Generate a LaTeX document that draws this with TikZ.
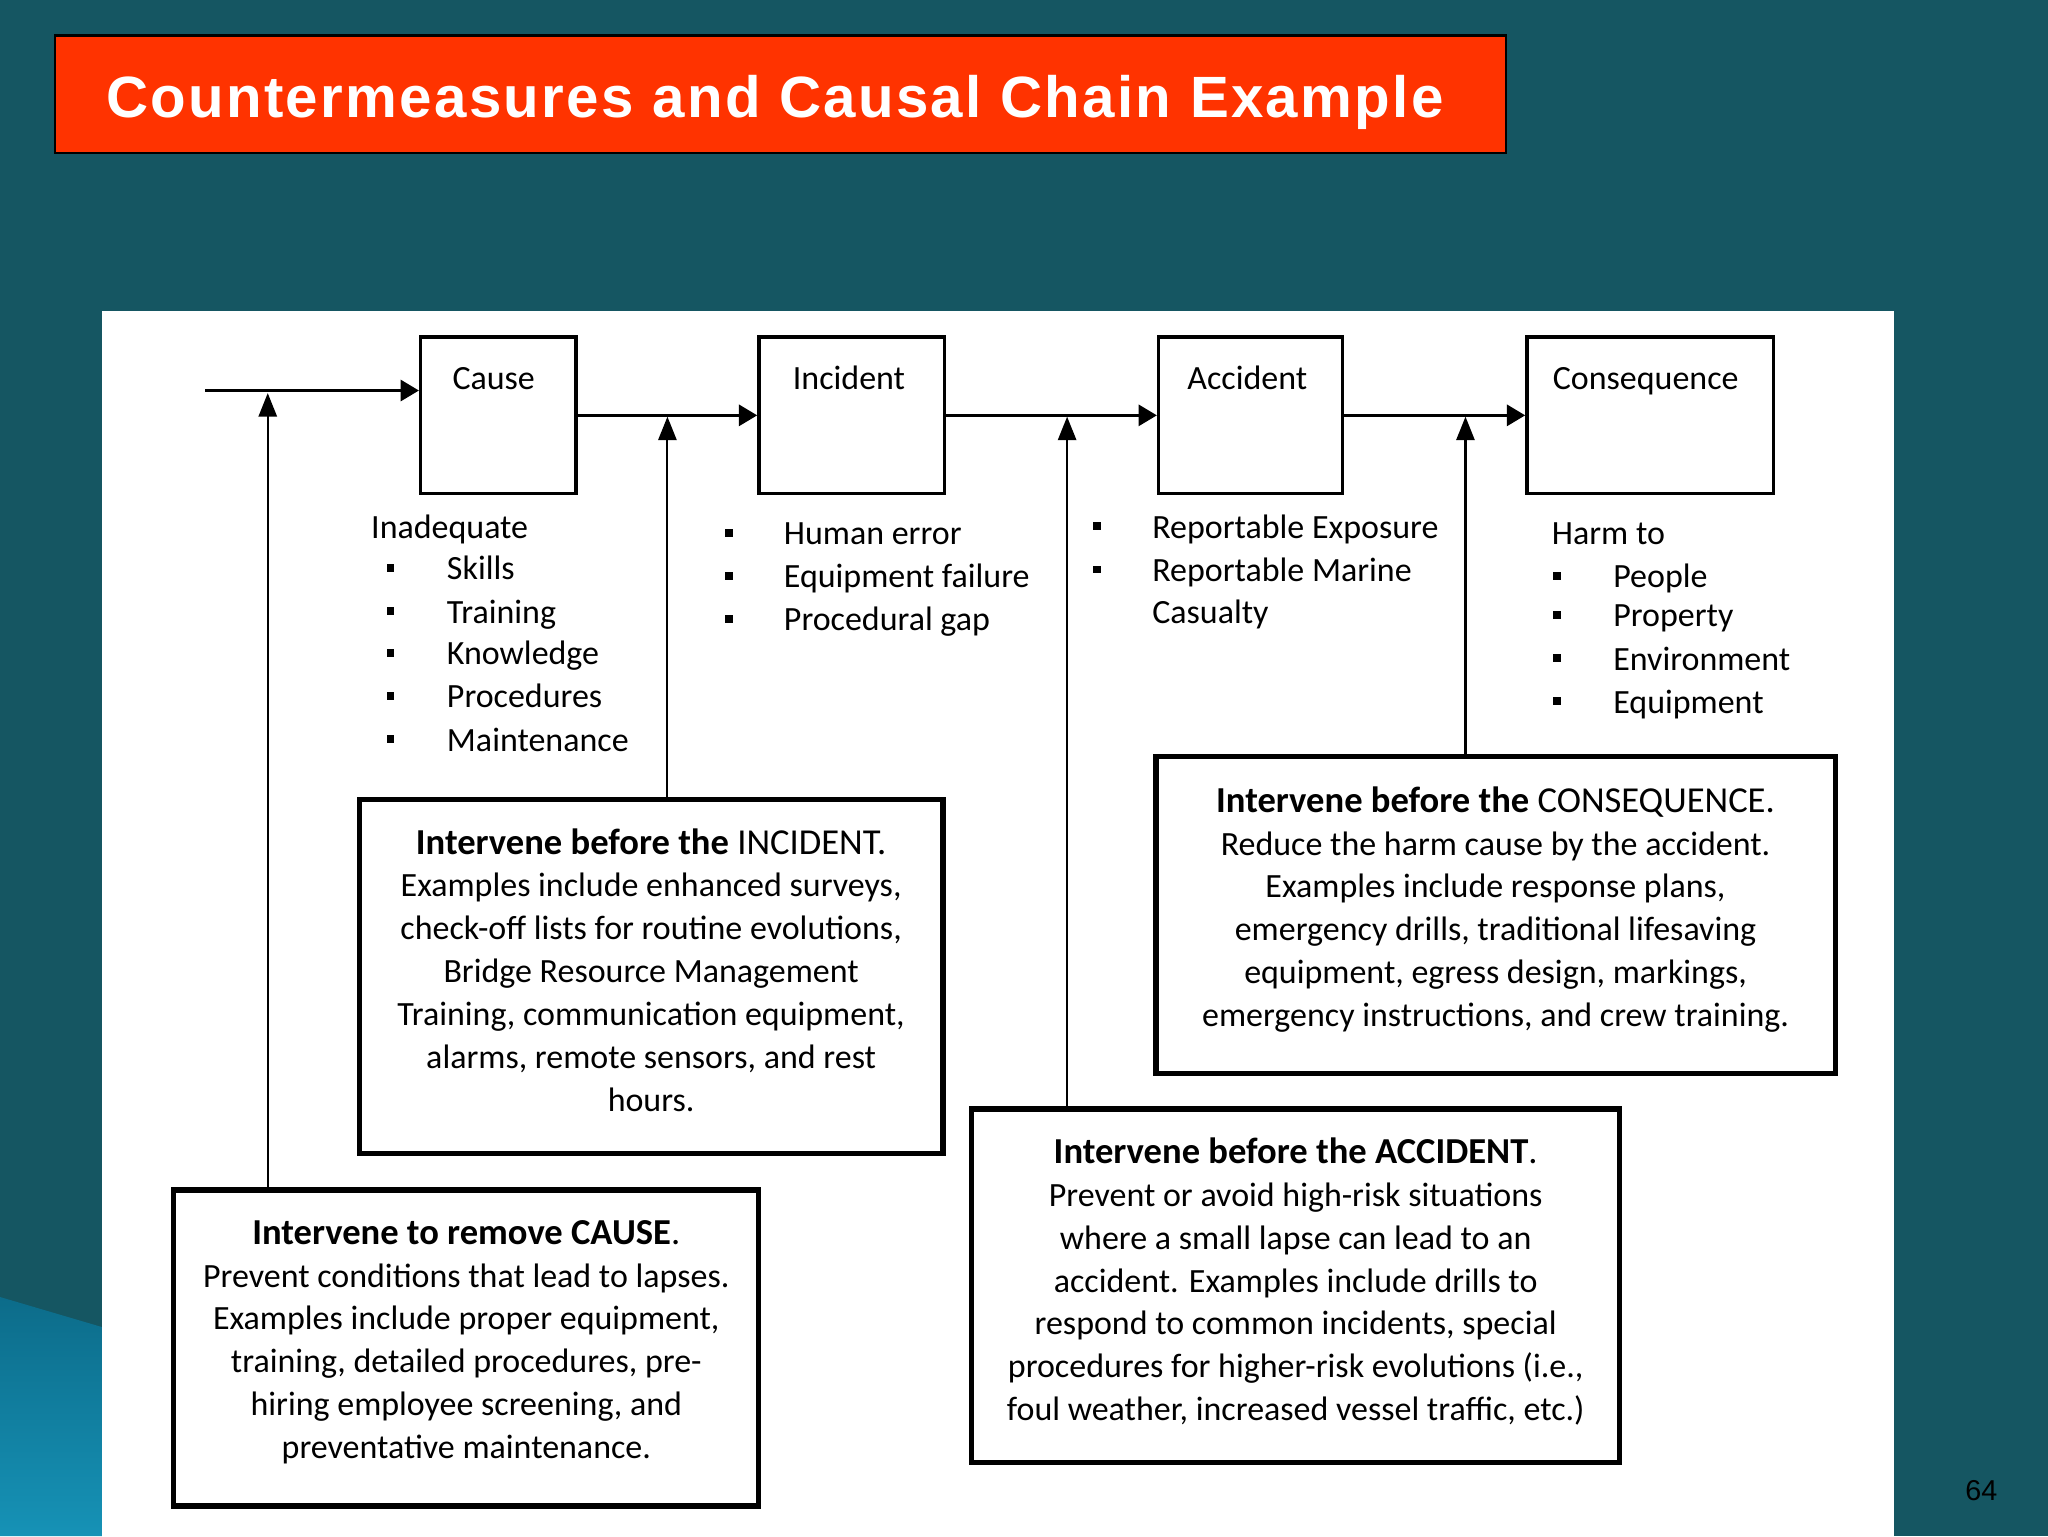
\documentclass[tikz,border=0pt]{standalone}
\usepackage{fontspec}
\setmainfont{Carlito}
\newfontfamily\titlefont[LetterSpace=4.0]{Liberation Sans}
\newfontfamily\pgfont{Liberation Sans}
\usetikzlibrary{arrows.meta}
\definecolor{bgteal}{RGB}{21,86,98}
\definecolor{titlered}{RGB}{255,51,0}
\definecolor{wedgetop}{RGB}{12,108,138}
\definecolor{wedgebot}{RGB}{22,146,182}
\newcommand{\headsize}{\fontsize{28}{32.8}\selectfont}
\begin{document}
\begin{tikzpicture}[x=1pt,y=-1pt,
  bodytext/.style={font=\fontsize{26}{32.8}\selectfont, inner sep=0pt, text=black},
  blocktext/.style={bodytext, align=center, anchor=north},
  listtext/.style={bodytext, anchor=base west},
  bul/.style={rectangle, fill=black, minimum size=6pt, inner sep=0pt},
  chainbox/.style={draw=black, line width=2.5pt, fill=white, minimum width=#1, minimum height=120pt, inner sep=0pt},
  ibox/.style={draw=black, line width=4pt, fill=white, inner sep=0pt},
  hline/.style={line width=2.5pt, -{Triangle[length=14pt,width=16pt]}},
  vline/.style={line width=1.6pt, -{Triangle[length=18pt,width=14pt]}}
]
\useasboundingbox (0,0) rectangle (1568,1176);
\fill[bgteal] (0,0) rectangle (1568,1176);
\shade[top color=wedgetop, bottom color=wedgebot] (0,993) -- (78,1016) -- (78,1176) -- (0,1176) -- cycle;
% white panel
\fill[white] (78,238) rectangle (1450,1176);
% title
\node[draw=black, line width=2pt, fill=titlered, minimum width=1111pt, minimum height=90pt, inner sep=0pt] (title) at (597.5,72) {};
\node[anchor=base west, inner sep=0pt, text=white, font=\titlefont\bfseries\fontsize{44.6}{50}\selectfont] (titletext) at (81,90) {Countermeasures and Causal Chain Example};
% chain boxes
\node[chainbox=119pt] (cause) at (381.5,318) {};
\node[chainbox=142pt] (incident) at (652,318) {};
\node[chainbox=141pt] (accident) at (957.5,318) {};
\node[chainbox=189pt] (conseq) at (1263.5,318) {};
\node[bodytext, anchor=base] (lcause) at (378,298) {Cause};
\node[bodytext, anchor=base] (lincident) at (650,298) {Incident};
\node[bodytext, anchor=base] (laccident) at (955,298) {Accident};
\node[bodytext, anchor=base] (lconseq) at (1260,298) {Consequence};
% horizontal connectors
\coordinate (s0) at (157,299);
\draw[hline] (s0) -- (s0 -| cause.west);
\draw[hline] (cause.east) -- (incident.west);
\draw[hline] (incident.east) -- (accident.west);
\draw[hline] (accident.east) -- (conseq.west);
% lists
\node[listtext] (inad) at (284,412) {Inadequate};
\foreach \y/\t [count=\i] in {435/Skills,468/Training,500/Knowledge,533/Procedures,566/Maintenance}{
  \node[bul] (cb\i) at (299,\y) {};
  \node[listtext] (ct\i) at (342,\y+9) {\t};
}
\foreach \y/\t [count=\i] in {408/Human error,441/Equipment failure,474/Procedural gap}{
  \node[bul] (ib\i) at (558,\y) {};
  \node[listtext] (it\i) at (600,\y+9) {\t};
}
\foreach \y/\t [count=\i] in {403/Reportable Exposure,436/Reportable Marine}{
  \node[bul] (ab\i) at (840,\y) {};
  \node[listtext] (at\i) at (882,\y+9) {\t};
}
\node[listtext] (at3) at (882,477) {Casualty};
\node[listtext] (harm) at (1188,417) {Harm to};
\foreach \y/\t [count=\i] in {441/People,471/Property,504/Environment,537/Equipment}{
  \node[bul] (hb\i) at (1192,\y) {};
  \node[listtext] (ht\i) at (1235,\y+9) {\t};
}
% intervention boxes
\node[ibox, minimum width=447pt, minimum height=271pt] (bincident) at (498.5,747.5) {};
\node[ibox, minimum width=520pt, minimum height=243pt] (bconseq) at (1145,700.5) {};
\node[ibox, minimum width=448pt, minimum height=242pt] (bcause) at (357,1032) {};
\node[ibox, minimum width=496pt, minimum height=271pt] (baccident) at (992,984.5) {};
\node[blocktext] (tincident) at (498.5,634) {{\headsize\textbf{Intervene before the} INCIDENT.}\\
Examples include enhanced surveys,\\
check-off lists for routine evolutions,\\
Bridge Resource Management\\
Training, communication equipment,\\
alarms, remote sensors, and rest\\
hours.};
\node[blocktext] (tconseq) at (1145,602) {{\headsize\textbf{Intervene before the} CONSEQUENCE.}\\
Reduce the harm cause by the accident.\\
Examples include response plans,\\
emergency drills, traditional lifesaving\\
equipment, egress design, markings,\\
emergency instructions, and crew training.};
\node[blocktext] (tcause) at (357,934) {{\headsize\textbf{Intervene to remove CAUSE}.}\\
Prevent conditions that lead to lapses.\\
Examples include proper equipment,\\
training, detailed procedures, pre-\\
hiring employee screening, and\\
preventative maintenance.};
\node[blocktext] (taccident) at (992,871) {{\headsize\textbf{Intervene before the ACCIDENT}.}\\
Prevent or avoid high-risk situations\\
where a small lapse can lead to an\\
accident. Examples include drills to\\
respond to common incidents, special\\
procedures for higher-risk evolutions (i.e.,\\
foul weather, increased vessel traffic, etc.)};
% vertical connectors
\coordinate (t1) at (205,301);
\coordinate (t2) at (511,319);
\coordinate (t3) at (817,319);
\coordinate (t4) at (1122,319);
\draw[vline] (t1 |- bcause.north) -- (t1);
\draw[vline] (t2 |- bincident.north) -- (t2);
\draw[vline] (t3 |- baccident.north) -- (t3);
\draw[vline] (t4 |- bconseq.north) -- (t4);
% page number
\node[inner sep=0pt, font=\pgfont\fontsize{22}{24}\selectfont, text=black] (pagenum) at (1517,1141) {64};
\end{tikzpicture}
\end{document}
